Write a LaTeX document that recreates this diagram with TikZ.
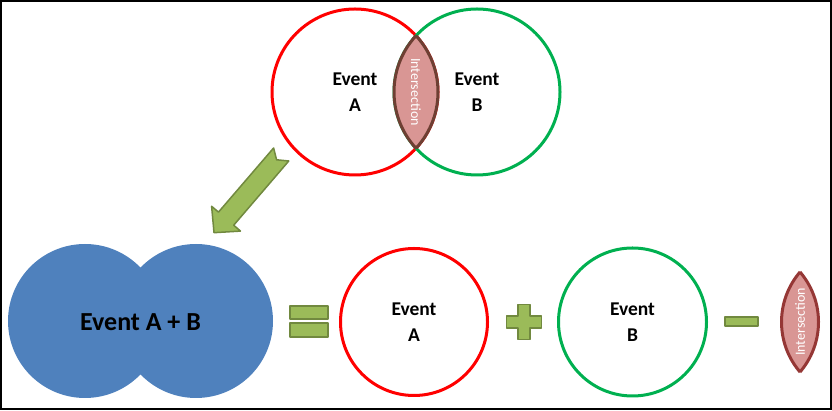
\documentclass[tikz,border=0pt]{standalone}
\usepackage{fontspec}
\setmainfont{Carlito}
\definecolor{evred}{HTML}{FF0000}
\definecolor{evgreen}{HTML}{00B050}
\definecolor{unionblue}{HTML}{4F81BD}
\definecolor{signfill}{HTML}{9BBB59}
\definecolor{signline}{HTML}{71893F}
\definecolor{lensfill}{HTML}{D99694}
\definecolor{lensline}{HTML}{953735}
\definecolor{lensdark}{HTML}{6E3F33}

\begin{document}
\begin{tikzpicture}[x=1pt,y=1pt,
  every node/.style={inner sep=0pt},
  evtext/.style={align=center,font=\fontsize{19.5}{25.7}\selectfont\bfseries},
  lenstext/.style={text=white,font=\fontsize{14}{16}\selectfont},
  sign/.style={fill=signfill,draw=signline,line width=1.5pt,line join=round},
  ring/.style={line width=3pt}
]

\useasboundingbox (0,0) rectangle (832,411);
\draw[line width=2pt] (1,1.5) rectangle (830.5,409.5);

% TOP: EVENTS A AND B
\coordinate (A) at (355,319);
\coordinate (B) at (477,319);
\draw[ring,evred] (A) circle[radius=83];
\draw[ring,evgreen] (B) circle[radius=83];

% INTERSECTION (top)
\begin{scope}
  \clip (A) circle[radius=83];
  \fill[lensfill] (B) circle[radius=83];
  \draw[lensdark,line width=3pt] (B) circle[radius=83];
\end{scope}
\begin{scope}
  \clip (B) circle[radius=83];
  \draw[lensdark,line width=3pt] (A) circle[radius=83];
\end{scope}

\node[evtext] (tA) at (A) {Event\\A};
\node[evtext] (tB) at (B) {Event\\B};
\node[lenstext,rotate=-90] (tI) at (416,319) {Intersection};

% BIG ARROW
\filldraw[sign] (214,178.3) -- (211.6,204.7) -- (218.5,198.9) -- (273.6,263)
  -- (276.6,251.2) -- (288.8,250) -- (233.7,185.8) -- (240.5,179.9) -- cycle;

% UNION
\coordinate (U1) at (85,90);
\coordinate (U2) at (196,90);
\fill[unionblue] (U1) circle[radius=77] (U2) circle[radius=77];
\node[font=\fontsize{26}{30}\selectfont\bfseries] (tU) at (140.5,89) {Event A + B};

% EQUALS
\filldraw[sign] (290,92) rectangle (328,105);
\filldraw[sign] (290,74) rectangle (328,88);

% EVENT A (bottom)
\coordinate (A2) at (414,89);
\draw[ring,evred] (A2) circle[radius=73.5];
\node[evtext] (tA2) at (A2) {Event\\A};

% PLUS
\filldraw[sign] (506.5,83) -- (518,83) -- (518,71.5) -- (530,71.5) -- (530,83)
  -- (541.5,83) -- (541.5,95) -- (530,95) -- (530,106.5) -- (518,106.5)
  -- (518,95) -- (506.5,95) -- cycle;

% EVENT B (bottom)
\coordinate (B2) at (632.5,89);
\draw[ring,evgreen] (B2) circle[radius=74];
\node[evtext] (tB2) at (B2) {Event\\B};

% MINUS
\filldraw[sign] (725,85) rectangle (758,94);

% INTERSECTION (bottom)
\coordinate (L1) at (741.7,89);
\coordinate (L2) at (858.3,89);
\begin{scope}
  \clip (L1) circle[radius=76.8];
  \fill[lensfill] (L2) circle[radius=76.8];
  \draw[lensline,line width=3pt] (L2) circle[radius=76.8];
\end{scope}
\begin{scope}
  \clip (L2) circle[radius=76.8];
  \draw[lensline,line width=3pt] (L1) circle[radius=76.8];
\end{scope}
\node[lenstext,rotate=90] (tI2) at (800,89) {Intersection};

\end{tikzpicture}
\end{document}
